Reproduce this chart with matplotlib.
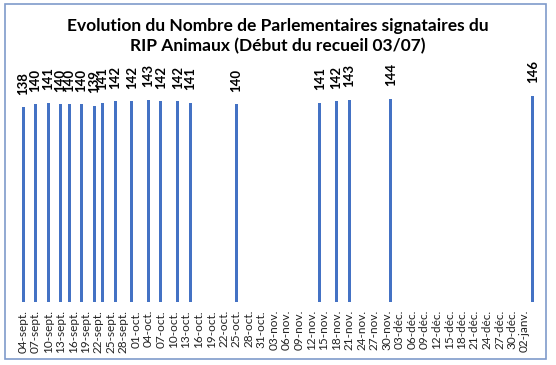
import datetime as dt
import matplotlib
matplotlib.use("Agg")
import matplotlib.pyplot as plt
import matplotlib.dates as mdates
from matplotlib.patches import Rectangle

# ---- data ----
dates = ["2020-09-04", "2020-09-07", "2020-09-10", "2020-09-13", "2020-09-15",
         "2020-09-18", "2020-09-21", "2020-09-23", "2020-09-26", "2020-09-30",
         "2020-10-04", "2020-10-07", "2020-10-11", "2020-10-14", "2020-10-25",
         "2020-11-14", "2020-11-18", "2020-11-21", "2020-12-01", "2021-01-04"]
values = [138, 140, 141, 140, 140, 140, 139, 141, 142, 142,
          143, 142, 142, 141, 140, 141, 142, 143, 144, 146]
tick_start = "2020-09-04"
tick_end = "2021-01-02"
tick_step_days = 3
month_fr = {9: "sept.", 10: "oct.", 11: "nov.", 12: "déc.", 1: "janv."}
title = "Evolution du Nombre de Parlementaires signataires du\nRIP Animaux (Début du recueil 03/07)"

FONT = ["Lato", "DejaVu Sans"]
plt.rcParams["font.family"] = FONT

W, H = 556, 365
fig = plt.figure(figsize=(W / 100, H / 100), dpi=100)
fig.patch.set_facecolor("white")

# chart border
fig.patches.append(Rectangle((5 / W, (H - 359) / H), 541 / W, 355 / H,
                             transform=fig.transFigure, fill=False,
                             edgecolor="#7f9bcb", linewidth=1.2))

x_dates = [dt.datetime.strptime(d, "%Y-%m-%d") for d in dates]
t0 = dt.datetime.strptime(tick_start, "%Y-%m-%d")
t1 = dt.datetime.strptime(tick_end, "%Y-%m-%d")

# axes placement (pixels)
left_px, right_px = 14.7, 541.3
bottom_px, top_px = 301.7, 76.0
ax = fig.add_axes([left_px / W, (H - bottom_px) / H,
                   (right_px - left_px) / W, (bottom_px - top_px) / H])
ax.set_facecolor("none")

xnum = mdates.date2num(x_dates)
ax.bar(xnum, values, width=0.72, color="#4472C4", zorder=2)

for xv, v in zip(xnum, values):
    ax.annotate(str(v), (xv, v), xytext=(0, 9), textcoords="offset points",
                rotation=90, ha="center", va="bottom", fontsize=9.5,
                fontweight="bold", color="black", family=FONT)

d0 = mdates.date2num(t0)
ax.set_xlim(d0 - 2, d0 + 124)
ax.set_ylim(0, 160)

ticks = []
labels = []
t = t0
while t <= t1:
    ticks.append(mdates.date2num(t))
    labels.append(f"{t.day:02d}-{month_fr[t.month]}")
    t += dt.timedelta(days=tick_step_days)
ax.set_xticks(ticks)
ax.set_xticklabels(labels, rotation=90, fontsize=8.5, color="#222222")
ax.tick_params(axis="x", length=0, pad=6)
ax.set_yticks([])
for s in ax.spines.values():
    s.set_visible(False)

fig.text(278 / W, 1 - 36 / H, title, ha="center", va="center",
         fontsize=12.5, fontweight="bold", color="black",
         linespacing=1.35, family=FONT)

fig.savefig("out.png", dpi=100)
